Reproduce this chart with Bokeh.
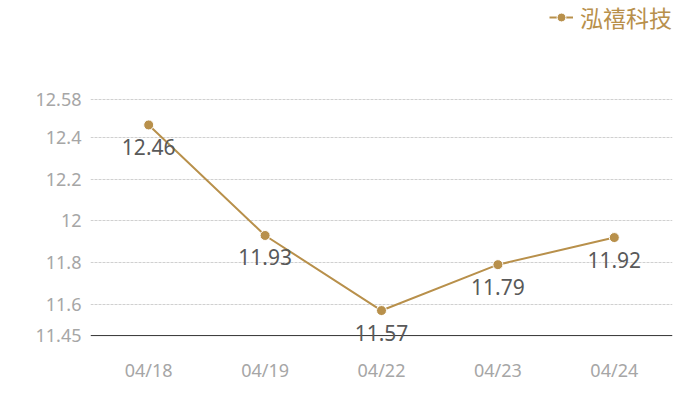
from bokeh.plotting import figure
from bokeh.models import ColumnDataSource, FixedTicker, Legend, LegendItem, LabelSet, Range1d, CustomJSTickFormatter, Span
from bokeh.core.properties import value
from bokeh.embed import file_html
from bokeh.resources import INLINE

dates = ["04/18", "04/19", "04/22", "04/23", "04/24"]
prices = [12.46, 11.93, 11.57, 11.79, 11.92]
price_labels = ["12.46", "11.93", "11.57", "11.79", "11.92"]
y_ticks = [11.45, 11.6, 11.8, 12.0, 12.2, 12.4, 12.58]
y_tick_labels = ["11.45", "11.6", "11.8", "12", "12.2", "12.4", "12.58"]
series_name = "泓禧科技"

GOLD = "#B8904B"
FONT = "Noto Sans"

# 11.45 sits 337px from top, 12.58 sits 237px above it; frame spans 0..350 px
Y_MIN = 11.45
Y_MAX_TICK = 12.58
PX_PER_UNIT = 237 / (Y_MAX_TICK - Y_MIN)
y_end = Y_MIN + 337 / PX_PER_UNIT
y_start = Y_MIN - 13 / PX_PER_UNIT

src = ColumnDataSource(dict(x=dates, y=prices, lab=price_labels))

p = figure(width=684, height=384, x_range=dates, y_range=Range1d(y_start, y_end),
           output_backend="svg", toolbar_location=None,
           min_border_left=90, min_border_right=12, min_border_top=0, min_border_bottom=34)
p.outline_line_color = None
p.background_fill_color = "white"
p.border_fill_color = "white"

ln = p.line("x", "y", source=src, line_color=GOLD, line_width=2)
sc = p.scatter("x", "y", source=src, size=10, fill_color=GOLD, line_color="white", line_width=1)

base = Span(location=Y_MIN, dimension="width", line_color="#333333", line_width=1)
p.add_layout(base)

labels = LabelSet(x="x", y="y", text="lab", source=src, y_offset=-22, text_align="center",
                  text_baseline="middle", text_color="#595959", text_font=value(FONT),
                  text_font_size="21px")
p.add_layout(labels)

# y axis
p.yaxis.ticker = FixedTicker(ticks=y_ticks)
p.yaxis.formatter = CustomJSTickFormatter(args=dict(t=y_ticks, l=y_tick_labels), code="""
for (let i = 0; i < t.length; i++) { if (Math.abs(t[i] - tick) < 1e-6) return l[i]; }
return tick.toString();
""")
p.yaxis.axis_line_color = None
p.yaxis.major_tick_line_color = None
p.yaxis.minor_tick_line_color = None
p.yaxis.major_tick_out = 0
p.yaxis.major_tick_in = 0
p.yaxis.major_label_text_color = "#A6A6A6"
p.yaxis.major_label_text_font = FONT
p.yaxis.major_label_text_font_size = "18px"
p.yaxis.major_label_standoff = 9

# x axis
p.xaxis.axis_line_color = None
p.xaxis.major_tick_line_color = None
p.xaxis.minor_tick_line_color = None
p.xaxis.major_tick_out = 0
p.xaxis.major_tick_in = 0
p.xaxis.major_label_text_color = "#A6A6A6"
p.xaxis.major_label_text_font = FONT
p.xaxis.major_label_text_font_size = "18px"
p.xaxis.major_label_standoff = 9

p.xgrid.grid_line_color = None
p.ygrid.grid_line_color = "#D0D0D0"
p.ygrid.grid_line_dash = "3 1"
p.ygrid.grid_line_width = 1
p.ygrid.ticker = FixedTicker(ticks=y_ticks[1:])

legend = Legend(items=[LegendItem(label=series_name, renderers=[ln, sc])],
                location="top_right", orientation="horizontal",
                label_text_font="Noto Sans CJK SC", label_text_font_size="23px",
                label_text_color=GOLD, glyph_width=24, glyph_height=22,
                background_fill_alpha=0, border_line_color=None, padding=0, margin=0,
                label_standoff=7)
p.add_layout(legend, "center")

open("out.html", "w").write(file_html(p, INLINE))
